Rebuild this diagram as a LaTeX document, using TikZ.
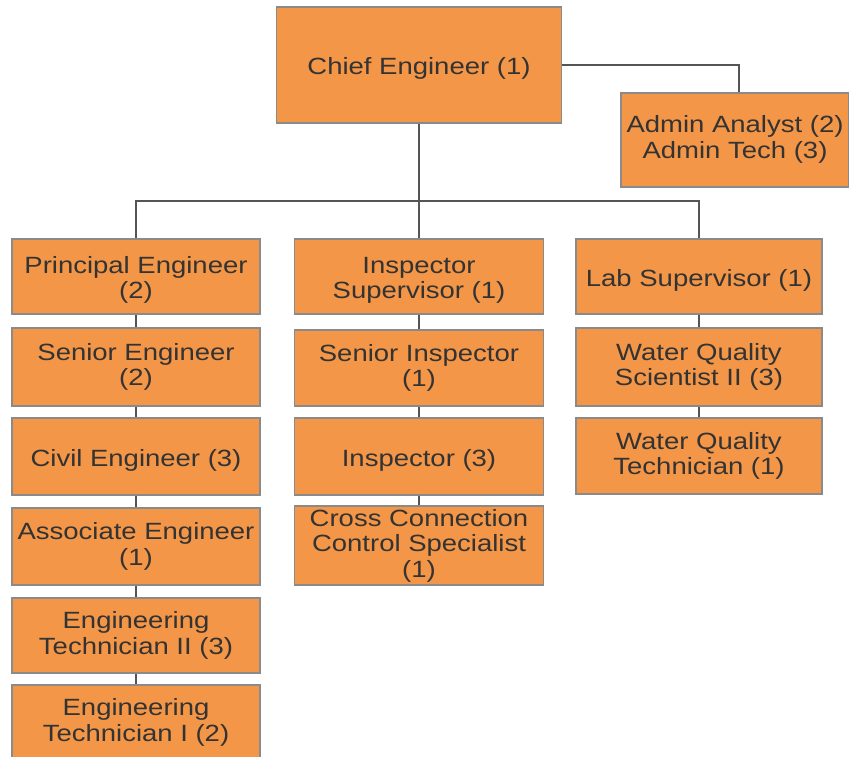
\documentclass[tikz,border=0pt]{standalone}
\usepackage{fontspec}
\setmainfont{Liberation Sans}[FakeStretch=1.17]
\definecolor{boxfill}{HTML}{F39647}
\definecolor{boxline}{HTML}{8A8A8A}
\definecolor{txt}{HTML}{333333}
\definecolor{conn}{HTML}{555555}
\newcommand{\topstrut}{\rule{0pt}{24pt}}
\begin{document}
\begin{tikzpicture}[x=1pt,y=-1pt,
  box/.style={draw=boxline, fill=boxfill, line width=1.5pt, inner sep=0pt, align=center,
    text=txt, font=\fontsize{23.5}{25.5}\selectfont,
    execute at begin node={\rule{0pt}{24pt}}},
  colA/.style={box, minimum width=248pt},
  colB/.style={box, minimum width=249pt},
  colC/.style={box, minimum width=246pt},
  link/.style={draw=conn, line width=1.5pt}]
\fill[white] (0,0) rectangle (849,757);
\useasboundingbox (0,0) rectangle (849,757);
% top
\node[box, minimum width=285pt, minimum height=116pt] (chief) at (419,65) {Chief Engineer (1)};
\node[box, minimum width=228pt, minimum height=94pt, text depth=6pt,
      execute at begin node={}] (admin) at (735,140) {Admin Analyst (2)\\Admin Tech (3)};
% column A
\node[colA, minimum height=75pt] (pe) at (136,276.5) {\topstrut Principal Engineer\\(2)};
\node[colA, minimum height=78pt] (se) at (136,367) {Senior Engineer\\(2)};
\node[colA, minimum height=77pt] (ce) at (136,456.5) {Civil Engineer (3)};
\node[colA, minimum height=77pt] (ae) at (136,546.5) {Associate Engineer\\(1)};
\node[colA, minimum height=75pt] (et2) at (136,635.5) {Engineering\\Technician II (3)};
\node[colA, minimum height=75pt] (et1) at (136,722.5) {Engineering\\Technician I (2)};
% column B
\node[colB, minimum height=75pt] (is) at (419,276.5) {\topstrut Inspector\\Supervisor (1)};
\node[colB, minimum height=76pt] (si) at (419,368) {Senior Inspector\\(1)};
\node[colB, minimum height=77pt] (in) at (419,456.5) {Inspector (3)};
\node[colB, minimum height=79pt] (cc) at (419,545.5) {Cross Connection\\Control Specialist\\(1)};
% column C
\node[colC, minimum height=75pt] (ls) at (699,276.5) {Lab Supervisor (1)};
\node[colC, minimum height=78pt] (wqs) at (699,367) {Water Quality\\Scientist II (3)};
\node[colC, minimum height=76pt] (wqt) at (699,456) {Water Quality\\Technician (1)};
% connectors
\coordinate (bus) at (419,201);
\draw[link] (chief.east) -| ([xshift=4pt]admin.north);
\draw[link] (chief.south) -- (bus);
\draw[link] (pe.north) |- (bus) -| (ls.north);
\draw[link] (bus) -- (is.north);
\draw[link] (pe) -- (se); \draw[link] (se) -- (ce); \draw[link] (ce) -- (ae);
\draw[link] (ae) -- (et2); \draw[link] (et2) -- (et1);
\draw[link] (is) -- (si); \draw[link] (si) -- (in); \draw[link] (in) -- (cc);
\draw[link] (ls) -- (wqs); \draw[link] (wqs) -- (wqt);
\end{tikzpicture}
\end{document}
